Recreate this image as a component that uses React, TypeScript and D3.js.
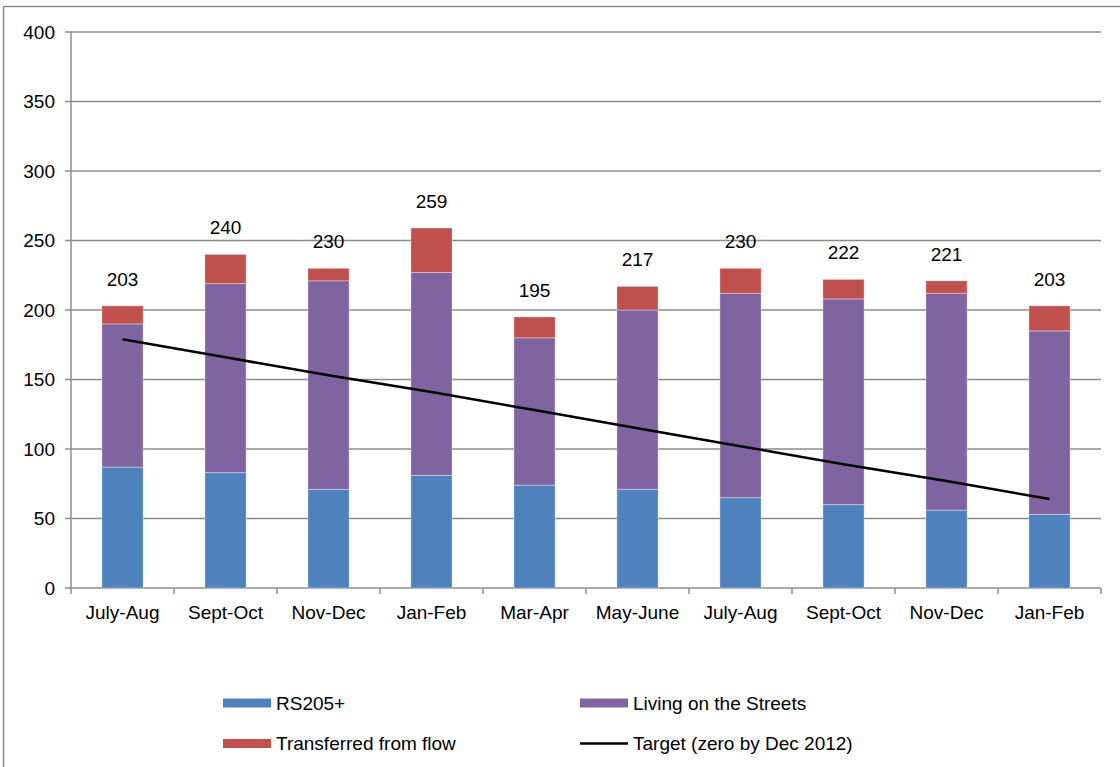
import React from 'react';
import * as d3 from 'd3';

const periods = ['July-Aug', 'Sept-Oct', 'Nov-Dec', 'Jan-Feb', 'Mar-Apr', 'May-June', 'July-Aug', 'Sept-Oct', 'Nov-Dec', 'Jan-Feb'];
const rs205 = [87, 83, 71, 81, 74, 71, 65, 60, 56, 53];
const streets = [103, 136, 150, 146, 106, 129, 147, 148, 156, 132];
const transferred = [13, 21, 9, 32, 15, 17, 18, 14, 9, 18];
const target = [179, 166, 153, 141, 128, 115, 102, 89, 77, 64];
const yTicks = [0, 50, 100, 150, 200, 250, 300, 350, 400];

const seriesNames = ['RS205+', 'Living on the Streets', 'Transferred from flow'];
const colors = ['#4F81BD', '#8064A2', '#C0504D'];

const W = 1120;
const H = 767;
const margin = { left: 71, right: 19, top: 32, bottom: 179 };
const font = 'Liberation Sans, Arial, sans-serif';
const gridColor = '#8c8c8c';

const App = () => {
  const innerW = W - margin.left - margin.right;
  const innerH = H - margin.top - margin.bottom;

  const idx = periods.map((_, i) => i);
  const x = d3.scaleBand<number>().domain(idx).range([0, innerW]).paddingInner(0.6).paddingOuter(0.3);
  const step = x.step();
  const y = d3.scaleLinear().domain([0, 400]).range([innerH, 0]);

  const rows = idx.map(i => ({ i, s0: rs205[i], s1: streets[i], s2: transferred[i] }));
  const stacked = d3.stack<any>().keys(['s0', 's1', 's2'])(rows);

  const line = d3.line<number>()
    .x((_, i) => (x(i) as number) + x.bandwidth() / 2)
    .y(d => y(d));

  const boundaries = d3.range(periods.length + 1).map(i => i * step);

  return (
    <div style={{ position: 'absolute', left: 0, top: 0 }}>
      <svg width={W} height={H} style={{ display: 'block', fontFamily: font }}>
        <rect x={0} y={0} width={W} height={H} fill="#fff" />
        <rect x={3.5} y={6.5} width={W + 20} height={H + 20} fill="none" stroke="#8c8c8c" strokeWidth={1.5} />
        <g transform={`translate(${margin.left},${margin.top})`}>
          {yTicks.map(t => (
            <g key={t}>
              <line x1={-6} x2={t === 0 ? innerW : innerW} y1={y(t)} y2={y(t)} stroke={gridColor} strokeWidth={1.5} />
              <text x={-16} y={y(t)} dy="0.35em" textAnchor="end" fontSize={19} fill="#000">{t}</text>
            </g>
          ))}
          <line x1={0} x2={0} y1={0} y2={innerH} stroke={gridColor} strokeWidth={1.5} />
          {boundaries.map((b, i) => (
            <line key={i} x1={b} x2={b} y1={innerH} y2={innerH + 6} stroke={gridColor} strokeWidth={1.5} />
          ))}
          {stacked.map((s, si) => (
            <g key={si} fill={colors[si]}>
              {s.map((d, i) => (
                <rect key={i} x={x(i)} y={y(d[1])} width={x.bandwidth()} height={y(d[0]) - y(d[1])}
                  stroke="#ffffff" strokeOpacity={0.35} strokeWidth={1} />
              ))}
            </g>
          ))}
          {rows.map(r => (
            <text key={r.i} x={(x(r.i) as number) + x.bandwidth() / 2} y={y(r.s0 + r.s1 + r.s2) - 20}
              textAnchor="middle" fontSize={19} fill="#000">{r.s0 + r.s1 + r.s2}</text>
          ))}
          <path d={line(target) || ''} fill="none" stroke="#000" strokeWidth={2.5} />
          {periods.map((p, i) => (
            <text key={i} x={(x(i) as number) + x.bandwidth() / 2} y={innerH + 31} textAnchor="middle" fontSize={19} fill="#000">{p}</text>
          ))}
        </g>
        <g fontSize={19} fill="#000">
          {[
            { label: seriesNames[0], kind: 'rect', color: colors[0], lx: 223, ly: 703 },
            { label: seriesNames[1], kind: 'rect', color: colors[1], lx: 580, ly: 703 },
            { label: seriesNames[2], kind: 'rect', color: colors[2], lx: 223, ly: 743.5 },
            { label: 'Target (zero by Dec 2012)', kind: 'line', color: '#000', lx: 580, ly: 743.5 },
          ].map((l, i) => (
            <g key={i}>
              {l.kind === 'rect'
                ? <rect x={l.lx} y={l.ly - 4.5} width={48} height={9} fill={l.color} />
                : <line x1={l.lx} x2={l.lx + 48} y1={l.ly} y2={l.ly} stroke={l.color} strokeWidth={2.5} />}
              <text x={l.lx + 53} y={l.ly} dy="0.35em">{l.label}</text>
            </g>
          ))}
        </g>
      </svg>
    </div>
  );
};

export default App;
